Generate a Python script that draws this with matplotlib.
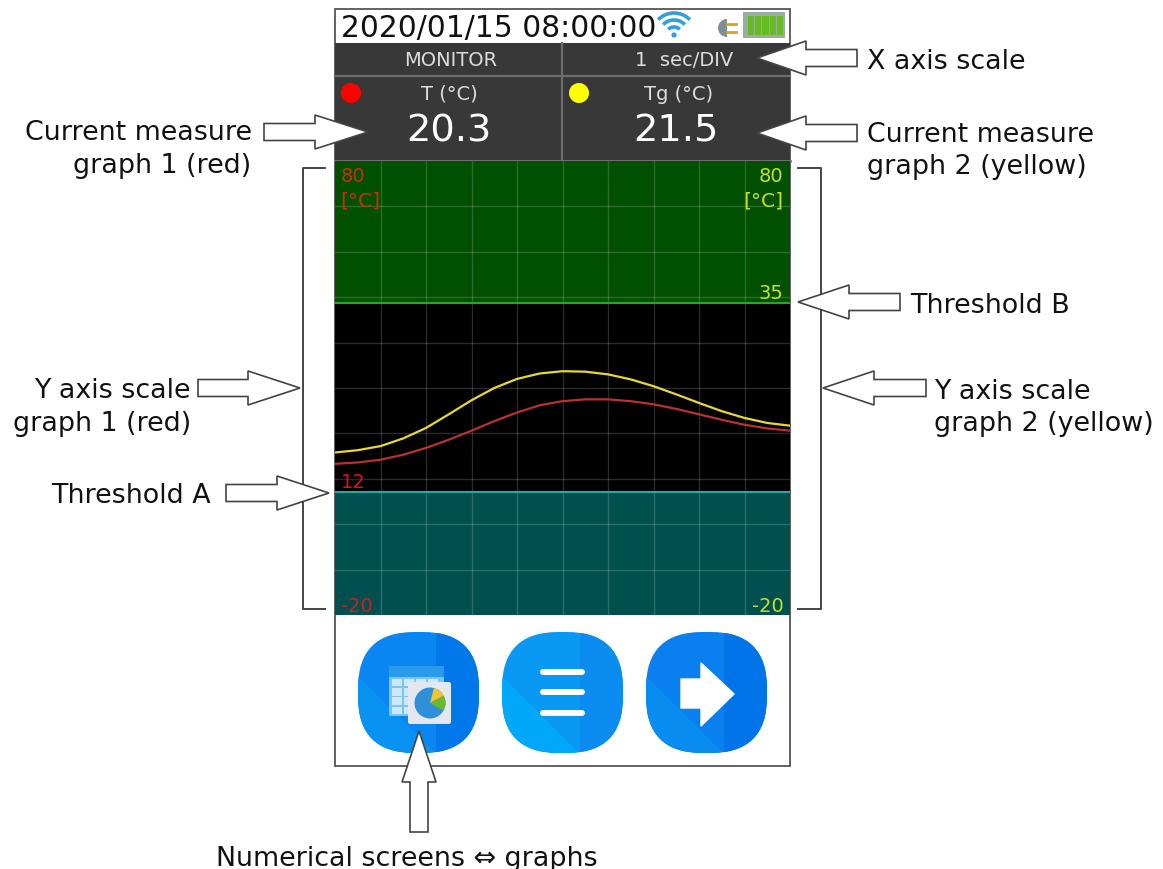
import matplotlib
matplotlib.use('Agg')
import matplotlib.pyplot as plt
from matplotlib.patches import Rectangle, Polygon, Circle, FancyBboxPatch, Arc, Wedge

# curves, one reading every half division
div = [0, 0.5, 1, 1.5, 2, 2.5, 3, 3.5, 4, 4.5, 5, 5.5, 6, 6.5, 7, 7.5, 8, 8.5, 9, 9.5, 10]
temp_t = [13.3, 13.6, 14.2, 15.3, 16.8, 18.6, 20.6, 22.7, 24.6, 26.2, 27.1, 27.5, 27.5, 27.1, 26.4, 25.4, 24.2, 23.0, 21.9, 21.1, 20.6]
temp_tg = [15.8, 16.3, 17.2, 18.9, 21.2, 24.2, 27.3, 30.0, 32.0, 33.2, 33.7, 33.6, 33.0, 31.9, 30.4, 28.6, 26.7, 24.9, 23.4, 22.3, 21.7]

# where the two threshold lines sit on the grid
thr_a_pos = 7.0
thr_b_pos = 48.7
y_min, y_max = -20, 80

timestamp = '2020/01/15 08:00:00'
mode_label = 'MONITOR'
scale_label = '1  sec/DIV'
name_1, value_1 = 'T (°C)', '20.3'
name_2, value_2 = 'Tg (°C)', '21.5'

W, H = 1163, 870
fig = plt.figure(figsize=(W / 100, H / 100), dpi=100)
fig.patch.set_facecolor('white')

# overlay in pixels for everything around the graph
pg = fig.add_axes([0, 0, 1, 1])
pg.set_xlim(0, W)
pg.set_ylim(H, 0)
pg.axis('off')

GREY = '#444444'
ANN = 19.4


def add_arrow(tail, neck, tip, y):
    # horizontal block arrow, white with thin outline
    pts = [(tail, y - 8.5), (neck, y - 8.5), (neck, y - 17), (tip, y), (neck, y + 17), (neck, y + 8.5), (tail, y + 8.5)]
    pg.add_patch(Polygon(pts, closed=True, fc='white', ec=GREY, lw=1.2, zorder=6))


def add_bracket(x, end, top, bottom):
    pg.plot([end, x, x, end], [top, top, bottom, bottom], color=GREY, lw=1.4, zorder=5)


# device frame
pg.add_patch(Rectangle((335, 10), 455, 757, fc='white', ec='#555555', lw=1.3, zorder=1))
pg.add_patch(Rectangle((335, 44), 455, 118, fc='#383838', ec='none', zorder=2))
pg.plot([562, 562], [44, 162], color='#6e6e6e', lw=1.6, zorder=3)
pg.plot([335, 790], [77, 77], color='#6e6e6e', lw=1.6, zorder=3)
pg.plot([335, 790], [162, 162], color='#777777', lw=2, zorder=3)

# status bar
pg.text(341, 28, timestamp, fontsize=21.4, color='#111111', va='center', ha='left', zorder=3)
for r in [8, 15, 22]:
    pg.add_patch(Arc((674, 36), 2 * r, 2 * r, theta1=224, theta2=316, color='#2f9fe0', lw=2.6, zorder=3))
pg.add_patch(Circle((674, 36), 2.6, fc='#2f9fe0', ec='none', zorder=3))
pg.add_patch(Wedge((727, 29), 9, 90, 270, fc='#7f8f96', ec='none', zorder=3))
pg.plot([727, 736], [25, 25], color='#d8a020', lw=2, zorder=3)
pg.plot([727, 736], [33, 33], color='#d8a020', lw=2, zorder=3)
pg.add_patch(Rectangle((743, 13), 42, 26, fc='#9aaca4', ec='none', zorder=3))
for i in range(5):
    pg.add_patch(Rectangle((748 + i * 7.2, 17), 6.2, 19, fc='#66bb22', ec='none', zorder=4))

# header readouts
pg.text(451, 60, mode_label, fontsize=14, color='#dddddd', ha='center', va='center', zorder=4)
pg.text(684, 60, scale_label, fontsize=14, color='#dddddd', ha='center', va='center', zorder=4)
pg.add_patch(Circle((351, 94), 10, fc='#ff0000', ec='none', zorder=4))
pg.add_patch(Circle((579, 94), 10, fc='#ffff00', ec='none', zorder=4))
pg.text(449, 94, name_1, fontsize=14, color='#dddddd', ha='center', va='center', zorder=4)
pg.text(679, 94, name_2, fontsize=14, color='#dddddd', ha='center', va='center', zorder=4)
pg.text(449, 132, value_1, fontsize=27.6, color='white', ha='center', va='center', zorder=4)
pg.text(676, 132, value_2, fontsize=27.6, color='white', ha='center', va='center', zorder=4)

# buttons along the bottom
buttons = [(358, '#0a86f2', '#0078ea', '#0892f2'),
           (502, '#0a98f5', '#0a8cf0', '#00a8fa'),
           (646, '#0a80f0', '#0074e8', '#088cf0')]
for bx, base, strip, low in buttons:
    box = FancyBboxPatch((bx, 633), 121, 121, boxstyle='round,pad=0,rounding_size=56',
                         fc=base, ec='none', zorder=2)
    pg.add_patch(box)
    r1 = pg.add_patch(Rectangle((bx + 78, 633), 43, 121, fc=strip, ec='none', zorder=2.1))
    r1.set_clip_path(box)
    r2 = pg.add_patch(Polygon([(bx, 677), (bx + 78, 755), (bx, 755)], closed=True, fc=low, ec='none', zorder=2.2))
    r2.set_clip_path(box)

# table and pie icon
pg.add_patch(FancyBboxPatch((389, 667), 55, 50, boxstyle='round,pad=0,rounding_size=2', fc='#7cc4f4', ec='none', zorder=3))
pg.add_patch(Rectangle((389, 667), 55, 11, fc='#2a9be8', ec='none', zorder=3.1))
for i in range(4):
    for j in range(4):
        pg.add_patch(Rectangle((392 + i * 12, 680 + j * 9.2), 10, 7.4, fc='#cfe9fb', ec='none', zorder=3.2))
pg.add_patch(FancyBboxPatch((408, 683), 43, 42, boxstyle='round,pad=0,rounding_size=2', fc='#e3e8f0', ec='none', zorder=3.5))
pg.add_patch(Circle((430, 704), 15.5, fc='#2f8fd8', ec='none', zorder=3.6))
pg.add_patch(Wedge((430, 704), 15.5, -75, -28, fc='#f4c430', ec='none', zorder=3.8))
pg.add_patch(Wedge((430, 704), 15.5, -28, 30, fc='#6cb82c', ec='none', zorder=3.8))

# menu and next icons
for by in [673, 693, 714]:
    pg.plot([543, 582], [by, by], color='white', lw=4.3, solid_capstyle='round', zorder=3)
pg.add_patch(Polygon([(681, 680), (701, 680), (701, 664), (734, 695), (701, 727), (701, 709), (681, 709)],
                     closed=True, fc='white', ec='white', lw=1, joinstyle='round', zorder=3))

# graph area
ax = fig.add_axes([335 / W, 1 - 616 / H, 455 / W, 454 / H], zorder=3)
ax.set_xlim(0, 10)
ax.set_ylim(y_min, y_max)
ax.set_facecolor('black')
ax.axhspan(thr_b_pos, y_max, color='#005000', lw=0, zorder=1)
ax.axhspan(y_min, thr_a_pos, color='#005050', lw=0, zorder=1)
ax.set_xticks(range(1, 10))
ax.set_yticks(range(y_min + 10, y_max, 10))
ax.grid(True, color='white', alpha=0.17, lw=1.0, zorder=2)
ax.set_axisbelow(False)
ax.tick_params(length=0, labelbottom=False, labelleft=False)
for s in ax.spines.values():
    s.set_visible(False)
ax.axhline(thr_b_pos, color='#22aa22', lw=1.5, zorder=3)
ax.axhline(thr_a_pos, color='#22aaaa', lw=1.5, zorder=3)
ax.plot(div, temp_tg, color='#e8d830', lw=1.6, zorder=4)
ax.plot(div, temp_t, color='#bc3030', lw=1.6, zorder=4)

LAB = 14
RED_G, YEL = '#c83200', '#c8e020'
ax.text(0.13, 78.8, '80', color=RED_G, fontsize=LAB, ha='left', va='top')
ax.text(0.12, 73.6, '[°C]', color=RED_G, fontsize=14.6, ha='left', va='top')
ax.text(9.86, 78.8, '80', color=YEL, fontsize=LAB, ha='right', va='top')
ax.text(9.86, 73.6, '[°C]', color=YEL, fontsize=14.6, ha='right', va='top')
ax.text(9.86, 48.9, '35', color=YEL, fontsize=LAB, ha='right', va='bottom')
ax.text(0.13, 7.4, '12', color='#e01010', fontsize=LAB, ha='left', va='bottom')
ax.text(0.13, -20, '-20', color='#cc2020', fontsize=LAB, ha='left', va='bottom')
ax.text(9.86, -20, '-20', color=YEL, fontsize=LAB, ha='right', va='bottom')

# callouts, on top of the graph
top = fig.add_axes([0, 0, 1, 1], zorder=5)
top.set_xlim(0, W)
top.set_ylim(H, 0)
top.axis('off')
top.patch.set_alpha(0)
pg = top

add_bracket(303, 325, 169, 610)
add_bracket(821, 798, 169, 610)
add_arrow(264, 315, 368, 133)
add_arrow(198, 248, 300, 389)
add_arrow(226, 277, 329, 494)
add_arrow(857, 806, 757, 59)
add_arrow(857, 806, 757, 134)
add_arrow(900, 849, 798, 303)
add_arrow(926, 874, 823, 389)
pg.add_patch(Polygon([(410, 833), (410, 783), (402, 783), (419, 732), (436, 783), (428, 783), (428, 833)],
                     closed=True, fc='white', ec=GREY, lw=1.2, zorder=6))


def note(x, y, s, ha='left'):
    pg.text(x, y, s, fontsize=ANN, color='#111111', ha=ha, va='baseline', zorder=7)


note(252, 140, 'Current measure', 'right')
note(251, 173, 'graph 1 (red)', 'right')
note(191, 398, 'Y axis scale', 'right')
note(191, 431, 'graph 1 (red)', 'right')
note(211, 503, 'Threshold A', 'right')
note(867, 69, 'X axis scale')
note(867, 142, 'Current measure')
note(867, 174, 'graph 2 (yellow)')
note(910, 313, 'Threshold B')
note(934, 399, 'Y axis scale')
note(934, 431, 'graph 2 (yellow)')
note(407, 866, 'Numerical screens ⇔ graphs', 'center')

fig.savefig('out.png', dpi=100)
